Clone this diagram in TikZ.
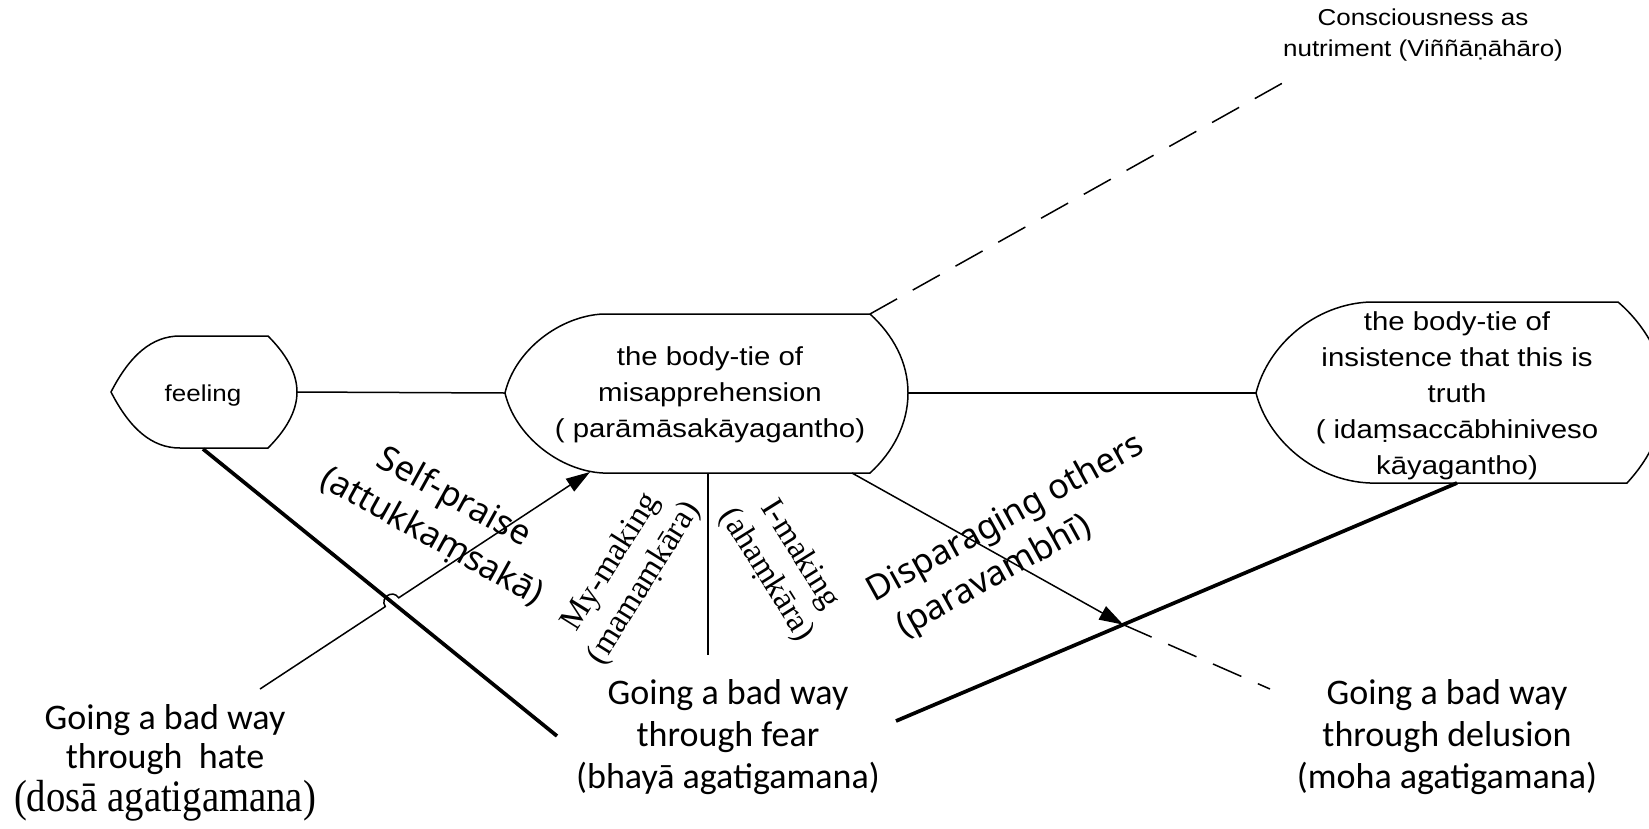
\documentclass[tikz,border=0pt]{standalone}
\usepackage{fontspec}
\setmainfont{Liberation Sans}
\newfontfamily\boxfont[FakeStretch=1.13]{Liberation Sans}
\newfontfamily\labfont{Carlito}
\newfontfamily\slantfont{Noto Sans}
\newfontfamily\serfont{Liberation Serif}
\newfontfamily\serfontnarrow[FakeStretch=0.86]{Liberation Serif}
\usetikzlibrary{arrows.meta,calc}
\begin{document}
\begin{tikzpicture}[x=1pt,y=-1pt,
  outline/.style={line width=1.5pt,line join=miter},
  link/.style={line width=1.5pt},
  heavy/.style={line width=3.7pt},
  dashlink/.style={line width=1.5pt,dash pattern=on 31pt off 18pt},
  tipped/.style={-{Triangle[length=24pt,width=15pt]}},
  boxtext/.style={align=center,inner sep=0pt,font=\boxfont\fontsize{26}{36}\selectfont},
  waytext/.style={align=center,inner sep=0pt,font=\labfont\fontsize{36}{42}\selectfont},
  slanttext/.style={align=center,inner sep=0pt,font=\slantfont\fontsize{34.5}{45}\selectfont},
  sertext/.style={align=center,inner sep=0pt,font=\serfont\fontsize{33}{39}\selectfont},
]
\fill[white] (0,0) rectangle (1649,828);
\useasboundingbox (0,0) rectangle (1649,828);
\clip (0,0) rectangle (1649,828);

% ---- outlines of the three boxes ----
% feeling
\draw[outline] (111,392) .. controls (130,355) and (152,336) .. (180,336) -- (268,336)
  .. controls (285,353) and (297,372) .. (297,392)
  .. controls (297,412) and (285,431) .. (268,448) -- (180,448)
  .. controls (152,448) and (130,429) .. (111,392) -- cycle;
% body-tie of misapprehension
\draw[outline] (505,393) .. controls (515,350) and (560,316) .. (603,314) -- (870,314)
  .. controls (893,335) and (908,362) .. (908,393)
  .. controls (908,424) and (893,452) .. (870,473) -- (603,473)
  .. controls (560,471) and (515,436) .. (505,393) -- cycle;
% body-tie of insistence
\draw[outline] (1256,393) .. controls (1268,345) and (1315,304) .. (1370,302) -- (1618,302)
  .. controls (1645,325) and (1665,360) .. (1665,393)
  .. controls (1665,428) and (1650,458) .. (1627,483) -- (1370,483)
  .. controls (1315,481) and (1268,440) .. (1256,393) -- cycle;

% ---- texts ----
\node[boxtext,font=\boxfont\fontsize{23}{30}\selectfont] (feel) at (203,396) {feeling};
\node[boxtext] (mis) at (710,395) {the body-tie of\\misapprehension\\( parāmāsakāyagantho)};
\node[boxtext,font=\boxfont\fontsize{26}{36}\selectfont] (tru) at (1457,396)
  {the body-tie of\\insistence that this is\\truth\\( idaṃsaccābhiniveso\\kāyagantho)};
\node[boxtext,font=\boxfont\fontsize{23}{31}\selectfont] (cons) at (1423,35)
  {Consciousness as\\nutriment (Viññāṇāhāro)};

\node[waytext,font=\labfont\fontsize{36}{39}\selectfont] (hate) at (165,763)
  {Going a bad way\\through\ \ hate\\[4pt]{\serfontnarrow\fontsize{45}{45}\selectfont (dosā agatigamana)}};
\node[waytext] (fear) at (728,737) {Going a bad way\\through fear\\(bhayā agatigamana)};
\node[waytext] (delu) at (1447,737) {Going a bad way\\through delusion\\(moha agatigamana)};

\node[slanttext,rotate=-29] (selfp) at (443,517) {Self-praise\\(attukkaṃsakā)};
\node[slanttext,align=left,rotate=29] (dispar) at (1017,539) {Disparaging others\\\hspace*{9pt}(paravambhī)};
\node[sertext,rotate=58] (mymak) at (628,573) {My-making\\(mamaṃkāra)};
\node[sertext,rotate=-58] (imak) at (783,565) {I-making\\(ahaṃkāra)};

% ---- connector ends ----
\coordinate (feel-e) at (297,392);
\coordinate (feel-s) at (203,449);
\coordinate (mis-w) at (505,393);
\coordinate (mis-e) at (908,393);
\coordinate (mis-ne) at (870,314);
\coordinate (mis-sw) at (590,472);
\coordinate (mis-s) at (708,473);
\coordinate (mis-se) at (852,473);
\coordinate (tru-w) at (1256,393);
\coordinate (tru-s) at (1457,483);
\coordinate (cons-sw) at (1288,80);
\coordinate (hate-ne) at (260,689);
\coordinate (fear-w) at (557,736);
\coordinate (fear-n) at (708,655);
\coordinate (fear-e) at (896,721);
\coordinate (delu-nw) at (1270,689);
\coordinate (cross) at ($(fear-e)!0.405!(tru-s)$);

% ---- connectors ----
\draw[link] (feel-e) -- (mis-w);
\draw[link] (mis-e) -- (tru-w);
\draw[dashlink] (mis-ne) -- (cons-sw);
\draw[heavy] (feel-s) -- (fear-w);
\draw[heavy] (fear-e) -- (tru-s);
\draw[link] (mis-s) -- (fear-n);
\draw[link,tipped] (mis-se) -- (cross);
\draw[dashlink] (cross) -- (delu-nw);

% self-praise arrow, hopping over the heavy line
\coordinate (hop) at (intersection of hate-ne--mis-sw and feel-s--fear-w);
\coordinate (h1) at ($(hop)!8pt!(hate-ne)$);
\coordinate (h2) at ($(hop)!8pt!(mis-sw)$);
\coordinate (c1) at ($(h1)!10.7pt!90:(hop)$);
\coordinate (c2) at ($(h2)!10.7pt!-90:(hop)$);
\draw[link,tipped] (hate-ne) -- (h1) .. controls (c1) and (c2) .. (h2) -- (mis-sw);
\end{tikzpicture}
\end{document}
